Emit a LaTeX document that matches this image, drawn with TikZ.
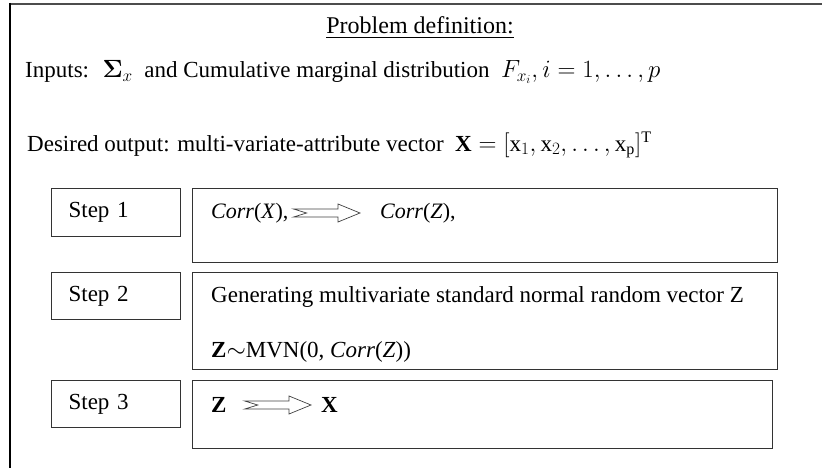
\documentclass[tikz,border=0pt]{standalone}
\usepackage{amsmath,amssymb}
\usepackage{fontspec}
\setmainfont{Liberation Serif}
\usepackage{tikz}
\usetikzlibrary{positioning,calc}

\begin{document}
\begin{tikzpicture}[x=1pt, y=-1pt,
    line/.style={line width=1.2pt, draw=black!80},
    stepbox/.style={line, anchor=north west, text width=95pt, inner xsep=17pt, align=left, font=\fontsize{23}{27}\selectfont},
    bigbox/.style={line, anchor=north west, inner sep=0pt},
    head/.style={anchor=west, inner sep=0pt, font=\fontsize{23}{27}\selectfont},
    body/.style={anchor=west, inner sep=0pt, font=\fontsize{23}{27}\selectfont},
    notched/.style={draw=black!75, line width=0.7pt, to path={
        let \p1=(\tikztostart), \p2=(\tikztotarget) in
        (\x1,\y1+4pt) -- (\x2-22pt,\y1+4pt) -- (\x2-22pt,\y1+9pt) -- (\x2,\y1)
        -- (\x2-22pt,\y1-9pt) -- (\x2-22pt,\y1-4pt) -- (\x1,\y1-4pt) -- (\x1+13pt,\y1) -- cycle}}]

    \useasboundingbox (0,0) rectangle (822,468);

    % outer frame
    \draw[line width=2pt, black!70] (10,4) -- (822,4);
    \draw[line width=1.5pt] (10,3) -- (10,468);

    % problem definition
    \node[head, anchor=center, font=\fontsize{24}{28}\selectfont] (title) at (420,28) {\underline{Problem definition:}};
    \node[head] (inputs) at (25,72) {Inputs: \ $\boldsymbol{\Sigma}_x$ \ and Cumulative marginal distribution \ $F_{x_i}, i = 1, \ldots, p$};
    \node[head] (output) at (27,145) {Desired output: multi-variate-attribute vector \ $\mathbf{X} = [\mathrm{x}_1, \mathrm{x}_2, \ldots, \mathrm{x}_\mathrm{p}]^\mathrm{T}$};

    % steps and their boxes
    \foreach \name/\txt/\ytop/\hs/\hb/\wb in {1/Step 1/188/48/74/585, 2/Step 2/272/47/97/585, 3/Step 3/380/47/68/580} {
        \node[stepbox, minimum height=\hs*1pt] (step\name) at (51,\ytop) {\txt};
        \node[bigbox, minimum width=\wb*1pt, minimum height=\hb*1pt] (box\name) at (192,\ytop) {};
    }

    % step 1
    \node[body, font=\fontsize{22}{26}\selectfont] (corrx) at (211,213) {\textit{Corr}(\textit{X}),};
    \node[body, font=\fontsize{22}{26}\selectfont] (corrz) at (380,213) {\textit{Corr}(\textit{Z}),};
    \draw[notched] ([xshift=5pt]corrx.east) to ([xshift=-20pt]corrz.west);

    % step 2
    \node[body] (gen) at (211,297) {Generating multivariate standard normal random vector Z};
    \node[body] (mvn) at (211,352) {$\mathbf{Z}{\sim}$MVN(0, \textit{Corr}(\textit{Z}))};

    % step 3
    \node[body] (zed) at (211,405) {$\mathbf{Z}$};
    \node[body] (ex) at (321,405) {$\mathbf{X}$};
    \draw[notched] ([xshift=18pt]zed.east) to ([xshift=-10pt]ex.west);
\end{tikzpicture}
\end{document}
